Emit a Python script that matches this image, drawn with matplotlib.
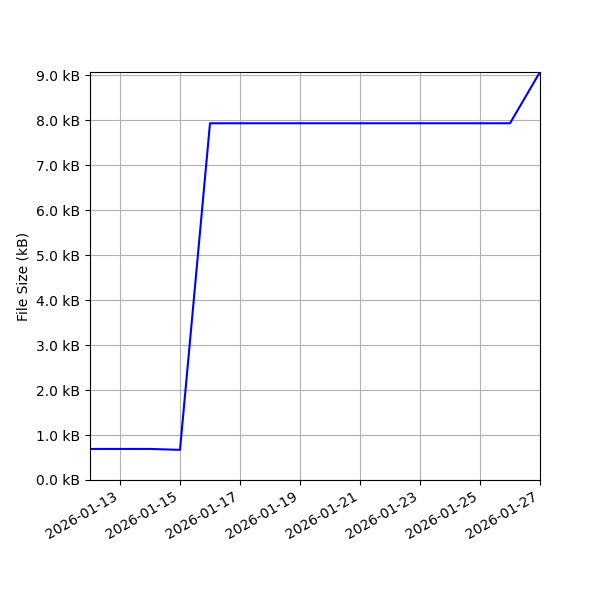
import numpy as np
import pandas as pd
import matplotlib
matplotlib.use("Agg")
import matplotlib.pyplot as plt
import matplotlib.dates as mdates
from matplotlib.ticker import FuncFormatter, MultipleLocator

dates = pd.date_range("2026-01-12", "2026-01-27", freq="D")
sizes_kb = [0.69, 0.69, 0.69, 0.67, 7.93, 7.93, 7.93, 7.93, 7.93,
            7.93, 7.93, 7.93, 7.93, 7.93, 7.93, 9.07]

fig, ax = plt.subplots(figsize=(6, 6), dpi=100)
ax.plot(dates, sizes_kb, color="blue", linewidth=1.5)
ax.set_ylabel("File Size (kB)")
ax.yaxis.set_major_locator(MultipleLocator(1.0))
ax.yaxis.set_major_formatter(FuncFormatter(lambda v, p: f"{v:.1f} kB"))
ax.xaxis.set_major_locator(mdates.DayLocator(bymonthday=range(1, 32, 2)))
ax.xaxis.set_major_formatter(mdates.DateFormatter("%Y-%m-%d"))
ax.set_xlim(dates[0], dates[-1])
ax.set_ylim(0, max(sizes_kb))
ax.grid(True)
fig.autofmt_xdate()
fig.subplots_adjust(left=0.15, right=0.9, top=0.88, bottom=0.2)
fig.savefig("out.png")
